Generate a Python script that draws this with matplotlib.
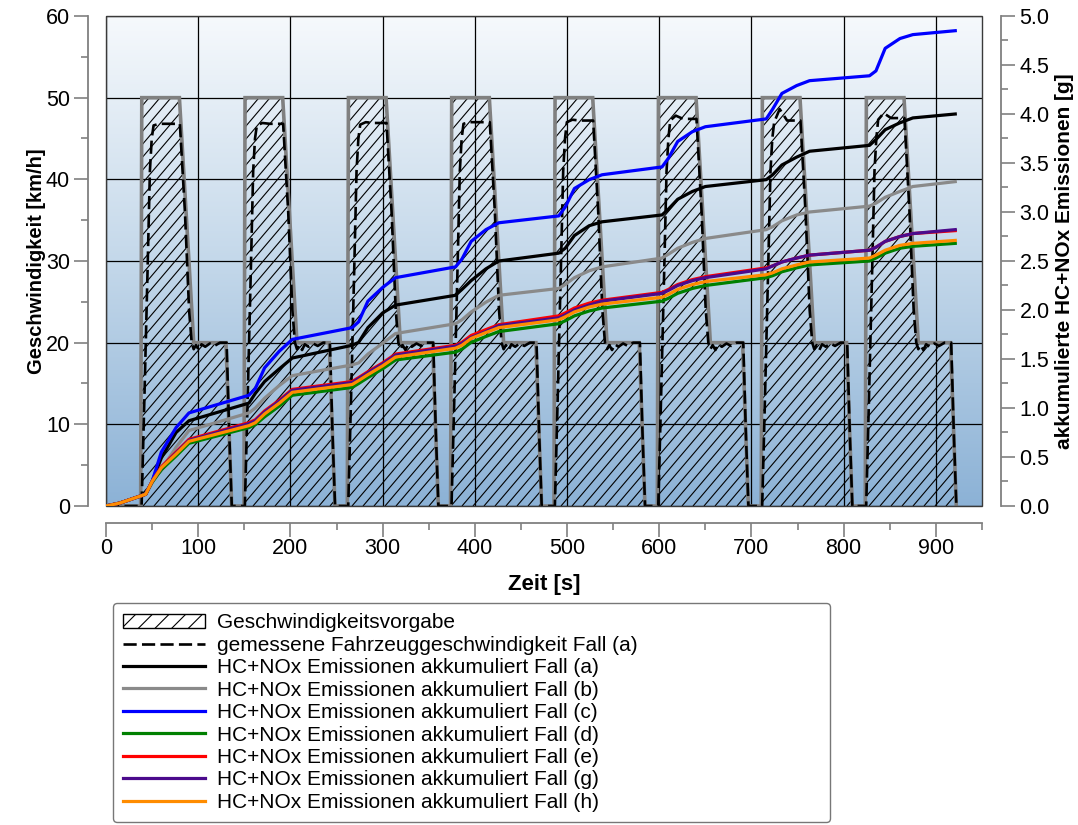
import numpy as np
import matplotlib
matplotlib.use("Agg")
import matplotlib.pyplot as plt
from matplotlib.collections import LineCollection
from matplotlib.patches import Patch, Rectangle, Polygon
from matplotlib.lines import Line2D
from matplotlib.colors import LinearSegmentedColormap

plt.rcParams['font.family'] = ['Liberation Sans', 'DejaVu Sans']
plt.rcParams['hatch.linewidth'] = 0.8

# ---------------------------------------------------------------- data
# start time of each urban driving cycle [s]
cycle_start = [37.6, 149.6, 261.7, 373.7, 485.8, 597.9, 710.6, 823.4]

# speed set point of one cycle (time relative to cycle start)
set_t = [0.0, 1.2, 42.0, 57.5, 92.5, 98.7]
set_v = [0, 50, 50, 20, 20, 0]

# measured vehicle speed, case (a), one cycle shape
meas_t = [0.0, 1.0, 4.0, 7.5, 10.0, 12.0, 14.0, 20.0, 28.0, 42.5, 48.0, 52.5,
          55.3, 57.5, 60.0, 63.0, 66.0, 70.0, 75.0, 80.0, 86.0, 93.2, 96.0, 98.8]
meas_peak = [46.8, 46.9, 47.0, 47.0, 47.3, 47.8, 48.6, 48.1]
meas_hold = [46.8, 46.8, 46.9, 47.0, 47.2, 47.4, 47.2, 47.5]
meas_low = [0, 0, 13, 29, 41, 45]
meas_dec = [36, 24, 20.0, 19.2, 19.7, 19.1, 19.8, 19.5, 19.9, 19.6, 20.0, 20.0, 9, 0]

# accumulated HC+NOx emissions [g]
t_em = [0, 15, 43, 50, 60, 76, 90, 155, 162, 172, 188, 202, 267, 274, 284, 300, 314,
        379, 386, 396, 412, 426, 491, 498, 508, 524, 538, 603, 610, 620, 636, 650,
        716, 723, 733, 749, 763, 828, 835, 845, 861, 875, 921]
em_a = [0.0, 0.03, 0.12, 0.25, 0.49, 0.75, 0.87, 1.05, 1.15, 1.27, 1.40, 1.51, 1.64, 1.67,
        1.82, 1.97, 2.05, 2.15, 2.21, 2.30, 2.42, 2.50, 2.58, 2.63, 2.76, 2.86, 2.90, 2.97,
        3.03, 3.13, 3.21, 3.26, 3.33, 3.38, 3.48, 3.56, 3.62, 3.68, 3.74, 3.84, 3.91, 3.96, 4.00]
em_b = [0.0, 0.03, 0.12, 0.25, 0.37, 0.60, 0.77, 0.95, 1.00, 1.10, 1.23, 1.33, 1.44, 1.46,
        1.55, 1.66, 1.76, 1.86, 1.90, 1.98, 2.08, 2.15, 2.22, 2.26, 2.33, 2.40, 2.44, 2.53,
        2.57, 2.63, 2.69, 2.73, 2.82, 2.85, 2.91, 2.97, 3.00, 3.06, 3.09, 3.15, 3.21, 3.26, 3.31]
em_c = [0.0, 0.03, 0.12, 0.25, 0.55, 0.80, 0.95, 1.13, 1.20, 1.41, 1.58, 1.70, 1.82, 1.88,
        2.09, 2.23, 2.33, 2.44, 2.52, 2.70, 2.82, 2.89, 2.96, 3.05, 3.24, 3.33, 3.38, 3.46,
        3.55, 3.72, 3.82, 3.87, 3.95, 4.05, 4.21, 4.29, 4.34, 4.39, 4.44, 4.67, 4.77, 4.81, 4.85]
em_d = [0.0, 0.03, 0.12, 0.24, 0.37, 0.51, 0.64, 0.80, 0.83, 0.91, 1.02, 1.13, 1.21, 1.25,
        1.31, 1.40, 1.49, 1.57, 1.60, 1.67, 1.73, 1.78, 1.86, 1.89, 1.94, 1.99, 2.02, 2.09,
        2.12, 2.17, 2.22, 2.25, 2.33, 2.35, 2.39, 2.43, 2.46, 2.50, 2.53, 2.58, 2.63, 2.65, 2.68]
em_e = [0.0, 0.03, 0.12, 0.25, 0.40, 0.55, 0.68, 0.85, 0.88, 0.97, 1.08, 1.19, 1.27, 1.31,
        1.37, 1.46, 1.55, 1.64, 1.67, 1.74, 1.80, 1.85, 1.94, 1.97, 2.02, 2.07, 2.10, 2.18,
        2.21, 2.26, 2.31, 2.34, 2.43, 2.45, 2.49, 2.53, 2.56, 2.61, 2.64, 2.70, 2.75, 2.78, 2.81]
em_g = [0.0, 0.03, 0.12, 0.25, 0.39, 0.54, 0.67, 0.84, 0.87, 0.96, 1.07, 1.18, 1.26, 1.30,
        1.36, 1.45, 1.54, 1.63, 1.66, 1.72, 1.78, 1.84, 1.92, 1.95, 2.00, 2.05, 2.09, 2.17,
        2.20, 2.25, 2.30, 2.33, 2.42, 2.45, 2.49, 2.53, 2.56, 2.61, 2.64, 2.70, 2.75, 2.78, 2.82]
em_h = [0.0, 0.03, 0.12, 0.25, 0.39, 0.53, 0.66, 0.82, 0.85, 0.94, 1.05, 1.16, 1.24, 1.28,
        1.34, 1.43, 1.52, 1.61, 1.64, 1.71, 1.77, 1.82, 1.90, 1.93, 1.98, 2.03, 2.06, 2.13,
        2.16, 2.21, 2.26, 2.29, 2.36, 2.38, 2.42, 2.46, 2.49, 2.53, 2.56, 2.61, 2.66, 2.68, 2.71]

x_ticks = [0, 100, 200, 300, 400, 500, 600, 700, 800, 900]
speed_ticks = [0, 10, 20, 30, 40, 50, 60]
em_ticks = [0.0, 0.5, 1.0, 1.5, 2.0, 2.5, 3.0, 3.5, 4.0, 4.5, 5.0]

legend_labels = ["Geschwindigkeitsvorgabe",
                 "gemessene Fahrzeuggeschwindigkeit Fall (a)",
                 "HC+NOx Emissionen akkumuliert Fall (a)",
                 "HC+NOx Emissionen akkumuliert Fall (b)",
                 "HC+NOx Emissionen akkumuliert Fall (c)",
                 "HC+NOx Emissionen akkumuliert Fall (d)",
                 "HC+NOx Emissionen akkumuliert Fall (e)",
                 "HC+NOx Emissionen akkumuliert Fall (g)",
                 "HC+NOx Emissionen akkumuliert Fall (h)"]

# ---------------------------------------------------------------- traces
sp_t, sp_v = [0.0], [0.0]
ms_t, ms_v = [0.0], [0.0]
for k, s in enumerate(cycle_start):
    sp_t += [s + r for r in set_t]
    sp_v += set_v
    shape = meas_low + [meas_hold[k] - 0.2, meas_peak[k], meas_hold[k], meas_hold[k]] + meas_dec
    ms_t += [s + r for r in meas_t]
    ms_v += shape

# ---------------------------------------------------------------- figure
W, H = 1078, 825
fig = plt.figure(figsize=(W / 100, H / 100), dpi=100)
ax = fig.add_axes([106 / W, 1 - 506 / H, 876 / W, 490 / H])

# background gradient
cmap = LinearSegmentedColormap.from_list("bg", ["#8cb2d6", "#c4d8ea", "#f6f9fc"])
grad = np.linspace(0, 1, 256).reshape(-1, 1)
ax.imshow(grad, extent=[0, 1, 0, 1], transform=ax.transAxes, origin="lower",
          aspect="auto", cmap=cmap, zorder=0)
ax.set_xlim(0, 950)
ax.set_ylim(0, 60)

ax.grid(True, which="major", color="black", lw=0.9, zorder=1)
ax.set_axisbelow(True)

# hatched set point area
verts = list(zip(sp_t, sp_v)) + [(sp_t[-1], 0), (0, 0)]
area = Polygon(verts, closed=True, facecolor="none", edgecolor="none", transform=ax.transData)
ax.add_patch(area)
aw, ah = 876.0, 490.0
step = 11.0 / aw
rise = ah / aw * 0.85
segs = [[(c, 0.0), (c + rise, 1.0)] for c in np.arange(-1.0, 1.05, step)]
hatch = LineCollection(segs, colors="black", linewidths=0.8, transform=ax.transAxes, zorder=2)
hatch.set_clip_path(area)
ax.add_collection(hatch)

ax.plot(sp_t, sp_v, color="#808080", lw=2.6, zorder=3, solid_joinstyle="miter")
ax.plot(ms_t, ms_v, color="black", lw=1.9, dashes=(5, 2), zorder=4)

# frame of the plotting area
ax.add_patch(Rectangle((0, 0), 1, 1, transform=ax.transAxes, fill=False,
                       ec="#3a3a3a", lw=1.0, zorder=6, clip_on=False))

# emissions on the secondary axis
ax2 = ax.twinx()
ax2.set_ylim(0, 5)
series = [(em_a, "black"), (em_b, "#8a8a8a"), (em_c, "#0000ff"), (em_d, "#008000"),
          (em_e, "#ff0000"), (em_g, "#4b0a8c"), (em_h, "#ff8c00")]
for vals, col in series:
    ax2.plot(t_em, vals, color=col, lw=2.3, zorder=5, solid_joinstyle="round")

# axes styling
spine_col = "#808080"
for sp in ["top", "right"]:
    ax.spines[sp].set_visible(False)
for sp in ["top", "left", "bottom"]:
    ax2.spines[sp].set_visible(False)
ax.spines["left"].set_position(("outward", 13))
ax.spines["bottom"].set_position(("outward", 12))
for sp in ["left", "bottom"]:
    ax.spines[sp].set_color(spine_col)
    ax.spines[sp].set_linewidth(1.3)
ax2.spines["right"].set_position(("outward", 14))
ax2.spines["right"].set_color(spine_col)
ax2.spines["right"].set_linewidth(1.3)

ax.set_xticks(x_ticks)
ax.set_xticks(np.arange(50, 951, 100), minor=True)
ax.set_yticks(speed_ticks)
ax.set_yticks(np.arange(5, 60, 10), minor=True)
ax2.set_yticks(em_ticks)
ax2.set_yticks(np.arange(0.25, 5.0, 0.5), minor=True)
ax2.set_yticklabels([f"{v:.1f}" for v in em_ticks])

for a in (ax, ax2):
    a.tick_params(which="major", length=10, width=1.2, color=spine_col, labelsize=15.5,
                  direction="out", pad=3)
    a.tick_params(which="minor", length=5, width=1.2, color=spine_col, direction="out")
ax.tick_params(axis="x", which="major", pad=1)

ax.set_xlabel("Zeit [s]", fontsize=16, fontweight="bold", labelpad=11)
ax.set_ylabel("Geschwindigkeit [km/h]", fontsize=14.5, fontweight="bold", labelpad=0)
ax2.set_ylabel("akkumulierte HC+NOx Emissionen [g]", fontsize=15, fontweight="bold", labelpad=4)

# legend
handles = [Patch(facecolor="white", edgecolor="black", hatch="//", lw=1.0),
           Line2D([], [], color="black", lw=1.9, dashes=(5, 2))]
handles += [Line2D([], [], color=col, lw=2.3) for _, col in series]
leg = fig.legend(handles, legend_labels, loc="upper left",
                 bbox_to_anchor=(113 / W, 3 / H, 717 / W, 219 / H), mode="expand",
                 fontsize=15, frameon=True, fancybox=True, handlelength=3.9,
                 handletextpad=0.6, labelspacing=0.165, borderpad=0.5, borderaxespad=0)
leg.get_frame().set_edgecolor("#555555")
leg.get_frame().set_linewidth(1.0)

fig.savefig("out.png", dpi=100)
